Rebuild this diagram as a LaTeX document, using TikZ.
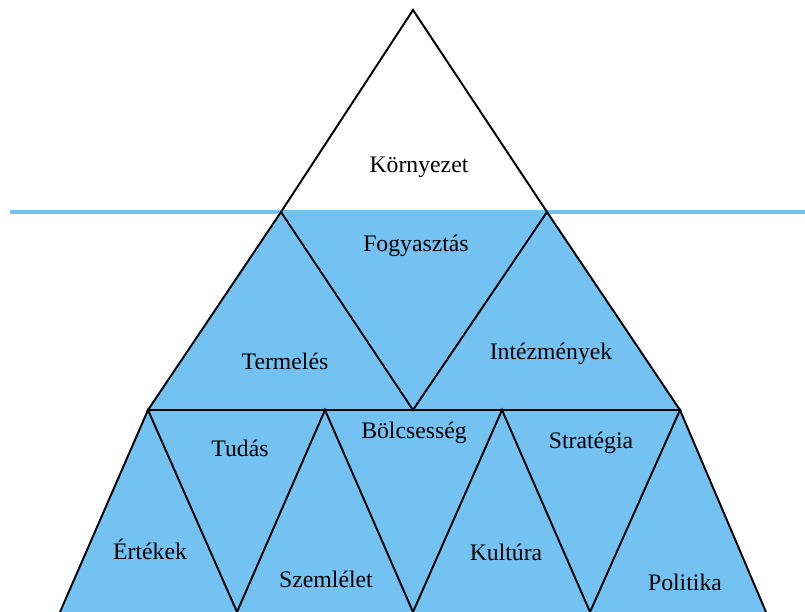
\documentclass[tikz,border=0pt]{standalone}
\usepackage{fontspec}
\setmainfont{Liberation Serif}
\definecolor{water}{RGB}{116,194,241}
\begin{document}
\begin{tikzpicture}[x=0.02cm,y=-0.02cm]
\tikzset{edge/.style={line width=1.1pt,black,line join=miter},
lbl/.style={font=\fontsize{13.5}{16}\selectfont}}

\useasboundingbox (0,0) rectangle (805,612);

\coordinate (top) at (413,10);
\coordinate (wl) at (281,212);
\coordinate (wr) at (547,212);
\coordinate (ml) at (148,410);
\coordinate (mc) at (413,410);
\coordinate (mr) at (680,410);
\coordinate (q1) at (325,410);
\coordinate (q2) at (502,410);
\coordinate (b1) at (60,612);
\coordinate (b2) at (237,612);
\coordinate (b3) at (413,612);
\coordinate (b4) at (590,612);
\coordinate (b5) at (766,612);
\coordinate (sl) at (10,212);
\coordinate (sr) at (805,212);

% under the water
\fill[water] (wl) -- (wr) -- (mr) -- (b5) -- (b1) -- (ml) -- cycle;
\draw[water,line width=2.2pt] (sl) -- (sr);

% tip
\draw[edge] (wl) -- (top) -- (wr);

%%%%%%%%%%%%%%%%%%%%%%%%%%%%%%%%%%%%%%
\draw[edge] (wl) -- (ml) -- (mr) -- (wr);
\draw[edge] (wl) -- (mc) -- (wr);

\draw[edge] (b1) -- (ml) -- (b2) -- (q1) -- (b3) -- (q2) -- (b4) -- (mr) -- (b5);

\node[lbl] at (419,167) (kornyezet) {Környezet};
\node[lbl] at (416,246) (fogyasztas) {Fogyasztás};
\node[lbl] at (285,361) (termeles) {Termelés};
\node[lbl] at (551,354) (intezmenyek) {Intézmények};
\node[lbl] at (240,448) (tudas) {Tudás};
\node[lbl] at (414,433) (bolcsesseg) {Bölcsesség};
\node[lbl] at (591,443) (strategia) {Stratégia};
\node[lbl] at (150,549) (ertekek) {Értékek};
\node[lbl] at (326,579) (szemlelet) {Szemlélet};
\node[lbl] at (506,552) (kultura) {Kultúra};
\node[lbl] at (685,582) (politika) {Politika};

\end{tikzpicture}
\end{document}
